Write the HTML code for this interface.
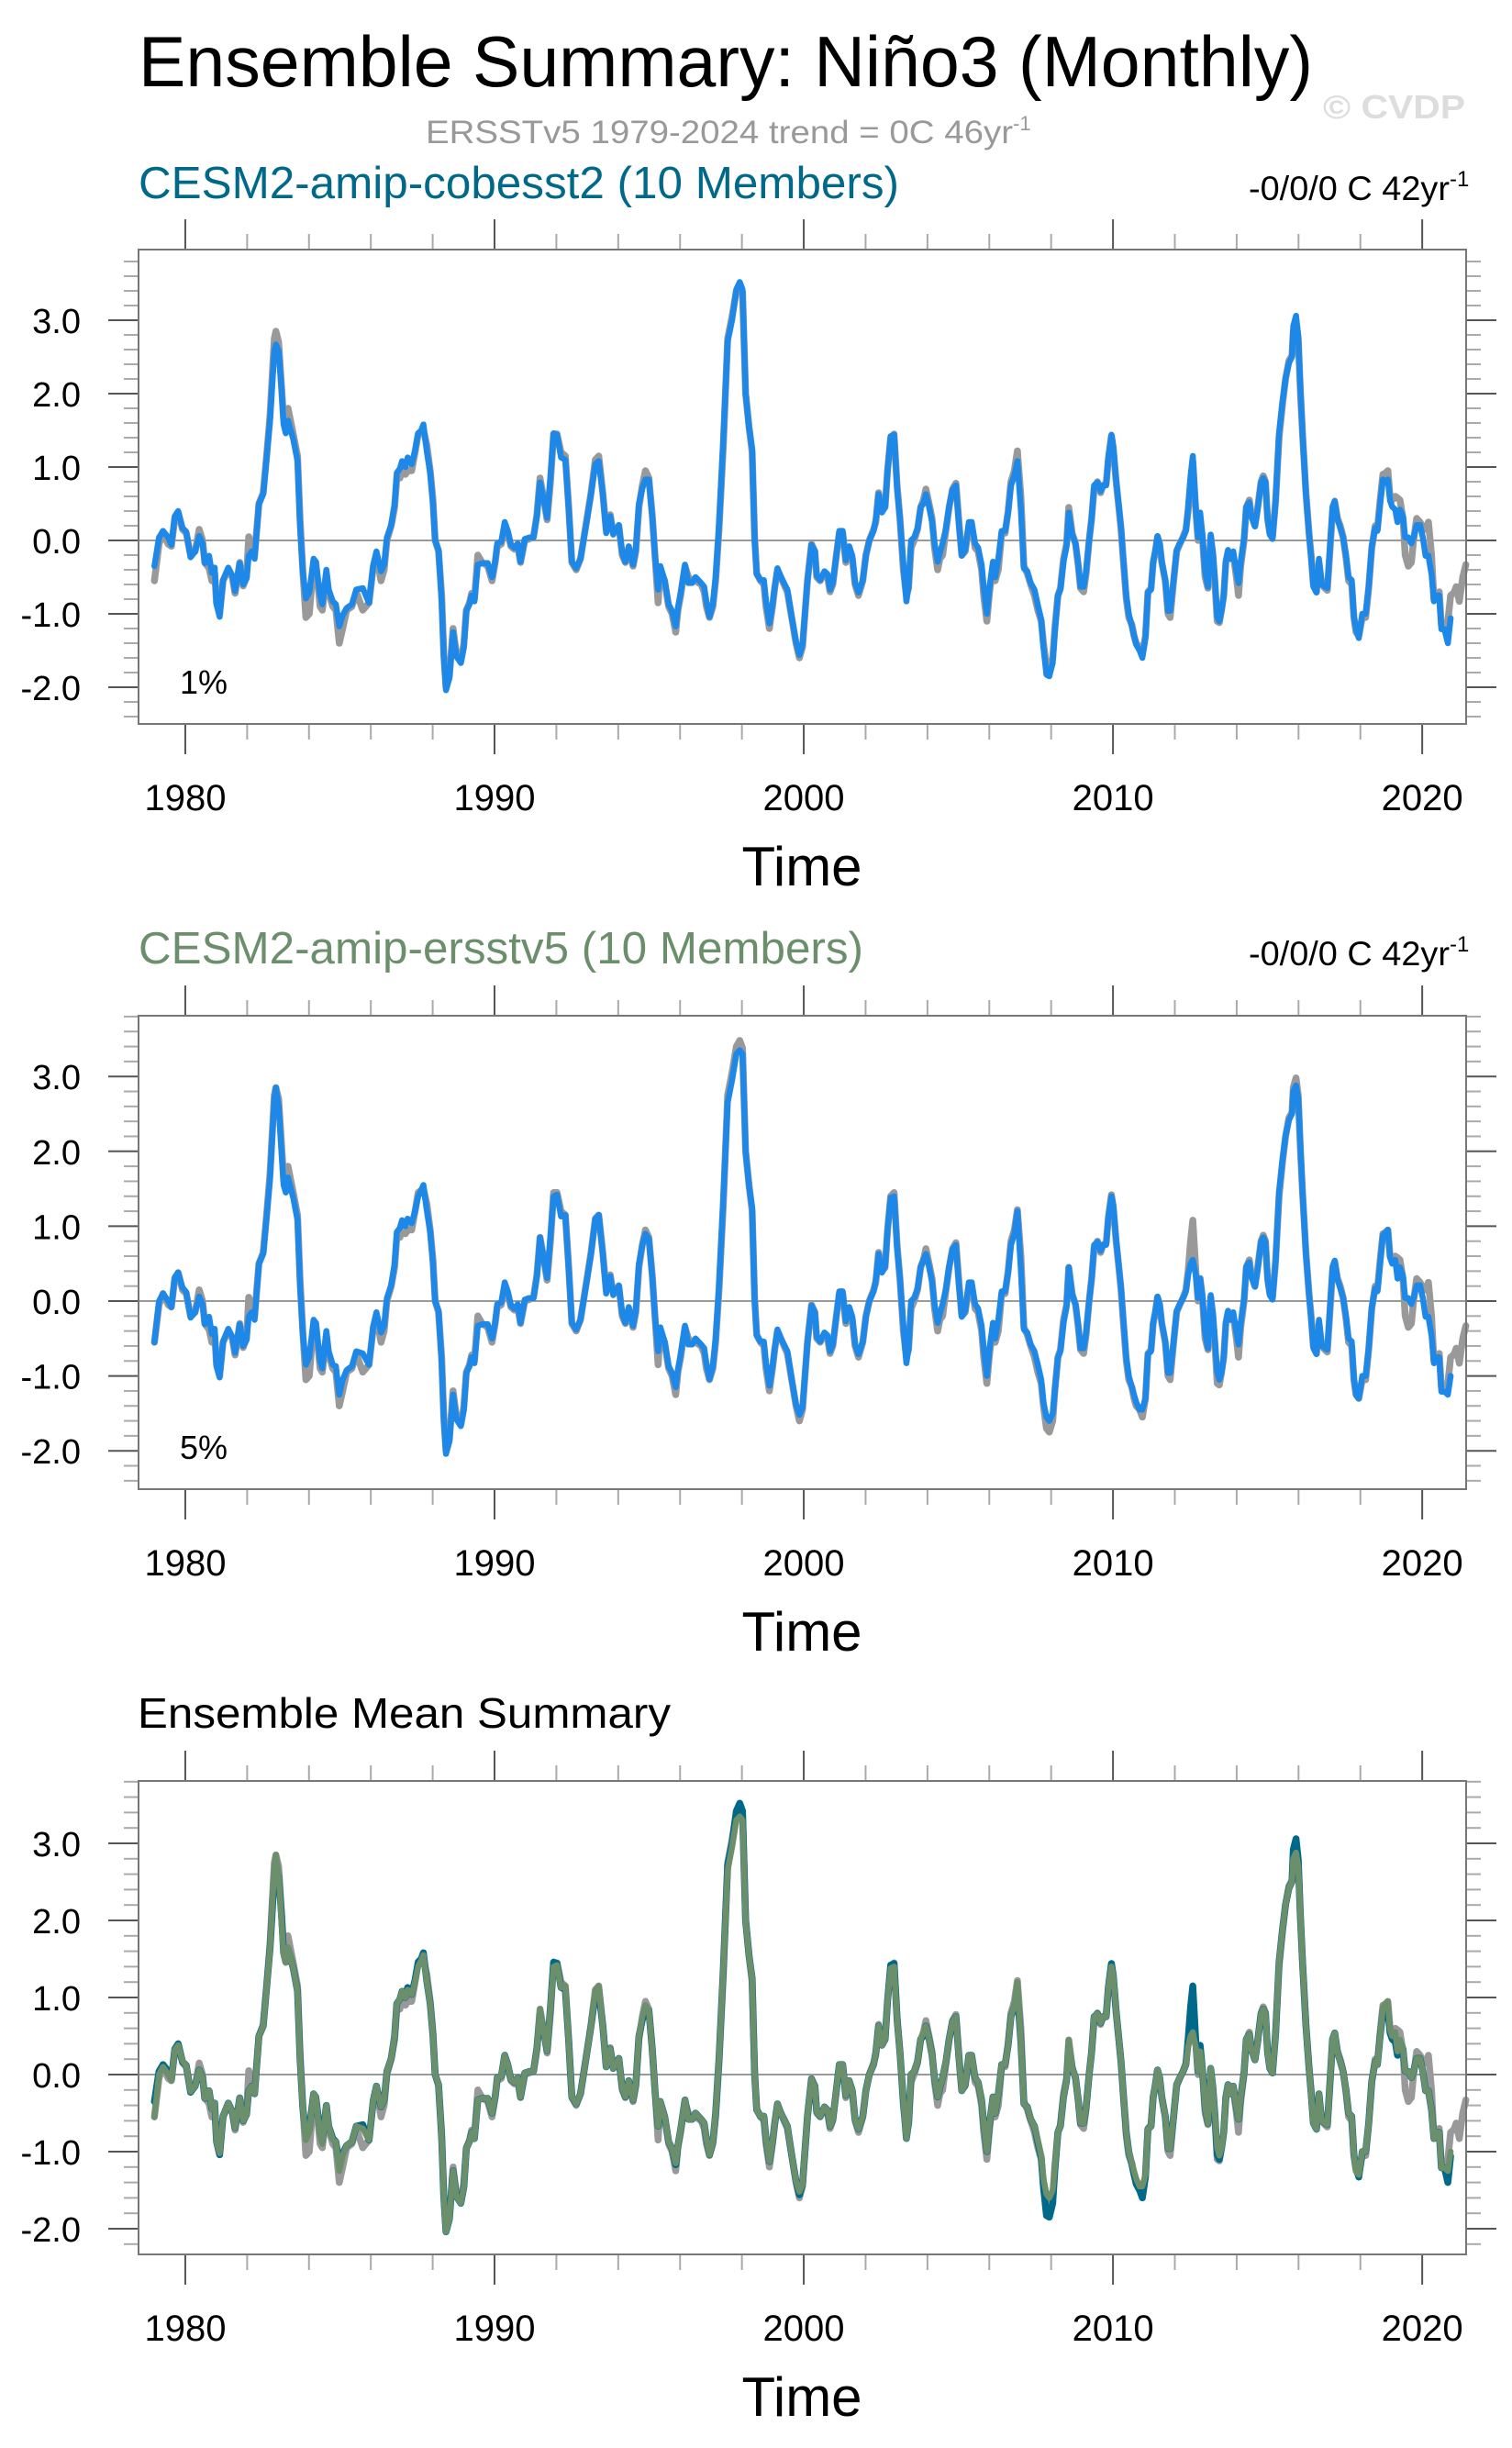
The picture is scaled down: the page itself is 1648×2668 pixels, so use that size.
<!DOCTYPE html>
<html><head><meta charset="utf-8"><title>Ensemble Summary: Niño3 (Monthly)</title>
<style>
html,body{margin:0;padding:0;background:#fff;}
svg{display:block;font-family:"Liberation Sans",Arial,sans-serif;}
</style></head>
<body>
<svg id="fig" width="1648" height="2668" viewBox="0 0 1648 2668" xmlns="http://www.w3.org/2000/svg">
<text x="151" y="94" font-size="78" fill="#000" textLength="1280" lengthAdjust="spacingAndGlyphs">Ensemble Summary: Niño3 (Monthly)</text>
<text x="1442" y="129" font-size="36" font-weight="bold" fill="#dddddd" textLength="155" lengthAdjust="spacingAndGlyphs">© CVDP</text>
<text x="464" y="156" font-size="35" fill="#999"><tspan textLength="640" lengthAdjust="spacingAndGlyphs">ERSSTv5 1979-2024 trend = 0C 46yr</tspan><tspan dy="-14" font-size="22">-1</tspan></text>

<text x="151" y="216" font-size="49" fill="#00698a" textLength="829" lengthAdjust="spacingAndGlyphs">CESM2-amip-cobesst2 (10 Members)</text>
<text x="1361" y="218" font-size="37" fill="#000"><tspan textLength="219" lengthAdjust="spacingAndGlyphs">-0/0/0 C 42yr</tspan><tspan dy="-15" font-size="24">-1</tspan></text>
<text x="196" y="756" font-size="36" fill="#000">1%</text>

<text x="151" y="1050" font-size="49" fill="#6b8f6b" textLength="790" lengthAdjust="spacingAndGlyphs">CESM2-amip-ersstv5 (10 Members)</text>
<text x="1361" y="1052" font-size="37" fill="#000"><tspan textLength="219" lengthAdjust="spacingAndGlyphs">-0/0/0 C 42yr</tspan><tspan dy="-15" font-size="24">-1</tspan></text>
<text x="196" y="1590" font-size="36" fill="#000">5%</text>

<text x="150" y="1883" font-size="46" fill="#000" textLength="581" lengthAdjust="spacingAndGlyphs">Ensemble Mean Summary</text>
</svg>
<script>
const times = [
1979.00,1979.15,1979.28,1979.45,1979.55,1979.66,1979.77,1979.91,1980.03,1980.17,
1980.32,1980.45,1980.56,1980.63,1980.77,1980.86,1980.95,1981.01,1981.11,1981.22,
1981.39,1981.52,1981.61,1981.76,1981.87,1981.98,1982.05,1982.15,1982.24,1982.38,
1982.52,1982.63,1982.74,1982.88,1982.93,1983.02,1983.11,1983.18,1983.25,1983.32,
1983.49,1983.63,1983.71,1983.80,1983.90,1984.01,1984.15,1984.22,1984.36,1984.43,
1984.56,1984.64,1984.77,1984.87,1984.98,1985.09,1985.22,1985.39,1985.53,1985.74,
1985.94,1986.08,1986.18,1986.33,1986.43,1986.52,1986.66,1986.77,1986.84,1986.94,
1987.01,1987.12,1987.19,1987.32,1987.43,1987.53,1987.63,1987.70,1987.81,1987.92,
1988.01,1988.08,1988.19,1988.29,1988.36,1988.43,1988.54,1988.66,1988.77,1988.91,
1989.01,1989.09,1989.19,1989.26,1989.35,1989.46,1989.60,1989.78,1989.92,1990.02,
1990.09,1990.22,1990.33,1990.43,1990.53,1990.64,1990.75,1990.84,1990.98,1991.12,
1991.26,1991.37,1991.47,1991.60,1991.70,1991.81,1991.91,1992.02,1992.15,1992.29,
1992.40,1992.50,1992.64,1992.78,1992.99,1993.12,1993.26,1993.37,1993.50,1993.61,
1993.74,1993.84,1994.02,1994.13,1994.23,1994.34,1994.48,1994.57,1994.67,1994.78,
1994.88,1994.99,1995.10,1995.19,1995.29,1995.36,1995.50,1995.63,1995.74,1995.86,
1995.93,1996.02,1996.16,1996.27,1996.39,1996.50,1996.68,1996.78,1996.85,1996.95,
1997.06,1997.15,1997.26,1997.40,1997.54,1997.68,1997.82,1997.93,1998.02,1998.12,
1998.23,1998.33,1998.41,1998.48,1998.60,1998.71,1998.78,1998.89,1998.99,1999.06,
1999.15,1999.26,1999.36,1999.47,1999.61,1999.75,1999.86,1999.96,2000.12,2000.25,
2000.36,2000.42,2000.53,2000.67,2000.77,2000.85,2000.94,2001.04,2001.15,2001.26,
2001.36,2001.47,2001.57,2001.66,2001.77,2001.91,2002.01,2002.12,2002.26,2002.33,
2002.42,2002.53,2002.63,2002.71,2002.81,2002.92,2003.02,2003.11,2003.22,2003.32,
2003.39,2003.47,2003.57,2003.68,2003.78,2003.87,2003.95,2004.05,2004.15,2004.23,
2004.33,2004.40,2004.49,2004.60,2004.70,2004.81,2004.92,2005.02,2005.11,2005.22,
2005.34,2005.43,2005.54,2005.64,2005.75,2005.82,2005.92,2006.01,2006.12,2006.19,
2006.29,2006.40,2006.51,2006.61,2006.70,2006.81,2006.91,2007.02,2007.12,2007.23,
2007.34,2007.46,2007.57,2007.68,2007.75,2007.85,2007.94,2008.05,2008.12,2008.22,
2008.30,2008.40,2008.50,2008.57,2008.68,2008.79,2008.88,2008.95,2009.05,2009.13,
2009.23,2009.31,2009.39,2009.50,2009.60,2009.68,2009.78,2009.85,2009.95,2010.01,
2010.10,2010.19,2010.26,2010.33,2010.43,2010.51,2010.61,2010.68,2010.75,2010.86,
2010.95,2011.05,2011.13,2011.23,2011.30,2011.37,2011.44,2011.51,2011.58,2011.69,
2011.78,2011.85,2011.95,2012.06,2012.16,2012.27,2012.36,2012.43,2012.51,2012.58,
2012.68,2012.75,2012.82,2012.89,2012.98,2013.07,2013.16,2013.23,2013.30,2013.37,
2013.44,2013.51,2013.58,2013.65,2013.72,2013.81,2013.89,2013.99,2014.06,2014.13,
2014.24,2014.31,2014.41,2014.47,2014.59,2014.68,2014.79,2014.86,2014.93,2015.00,
2015.07,2015.16,2015.26,2015.37,2015.48,2015.58,2015.69,2015.79,2015.83,2015.92,
2015.99,2016.06,2016.13,2016.24,2016.34,2016.41,2016.48,2016.58,2016.66,2016.75,
2016.85,2016.93,2017.00,2017.10,2017.17,2017.26,2017.35,2017.44,2017.54,2017.62,
2017.72,2017.79,2017.86,2017.95,2018.06,2018.17,2018.27,2018.37,2018.48,2018.55,
2018.64,2018.73,2018.82,2018.89,2018.96,2019.03,2019.13,2019.20,2019.28,2019.38,
2019.45,2019.55,2019.65,2019.72,2019.82,2019.93,2020.02,2020.11,2020.20,2020.30,
2020.38,2020.48,2020.55,2020.62,2020.72,2020.83,2020.92,2021.03,2021.10,2021.20,
2021.31,2021.41];

const cobeMean = [
-0.35,0.04,0.13,0.04,-0.06,0.33,0.40,0.17,0.12,-0.23,
-0.15,0.06,-0.04,-0.31,-0.21,-0.44,-0.37,-0.87,-1.04,-0.54,
-0.37,-0.48,-0.69,-0.31,-0.60,-0.52,-0.21,-0.15,-0.25,0.50,
0.63,1.13,1.63,2.58,2.67,2.58,2.08,1.58,1.46,1.63,
1.38,1.08,0.21,-0.42,-0.79,-0.71,-0.25,-0.29,-0.75,-0.87,
-0.40,-0.67,-0.83,-0.87,-1.17,-1.02,-0.92,-0.87,-0.67,-0.65,
-0.85,-0.33,-0.15,-0.42,-0.33,0.04,0.21,0.50,0.92,0.98,
1.08,1.00,1.13,1.04,1.23,1.46,1.50,1.58,1.21,0.92,
0.50,0.00,-0.13,-0.83,-1.58,-2.04,-1.88,-1.25,-1.58,-1.67,
-1.46,-0.96,-0.87,-0.75,-0.83,-0.33,-0.31,-0.31,-0.50,-0.29,
-0.04,-0.02,0.25,0.13,-0.06,-0.10,-0.04,-0.29,0.02,0.04,
0.04,0.33,0.79,0.54,0.31,0.88,1.46,1.44,1.13,1.10,
0.42,-0.29,-0.38,-0.25,0.29,0.63,1.04,1.08,0.63,0.10,
0.33,0.08,0.21,-0.17,-0.29,-0.08,-0.33,-0.13,0.50,0.71,
0.83,0.83,0.33,-0.21,-0.67,-0.35,-0.54,-0.87,-0.96,-1.17,
-0.92,-0.71,-0.33,-0.58,-0.58,-0.50,-0.58,-0.63,-0.83,-1.04,
-0.87,-0.50,0.21,1.38,2.71,3.00,3.42,3.52,3.42,2.00,
1.54,1.25,0.00,-0.46,-0.54,-0.54,-0.83,-1.13,-0.87,-0.63,
-0.38,-0.50,-0.58,-0.67,-1.04,-1.38,-1.56,-1.42,-0.54,-0.06,
-0.15,-0.48,-0.54,-0.42,-0.46,-0.67,-0.58,-0.25,0.13,0.13,
-0.27,-0.08,-0.21,-0.58,-0.71,-0.54,-0.21,0.00,0.13,0.29,
0.63,0.38,0.46,0.96,1.42,1.44,0.71,0.29,-0.33,-0.83,
-0.63,0.00,0.04,0.17,0.46,0.50,0.63,0.46,0.25,-0.04,
-0.29,-0.17,-0.04,0.17,0.46,0.69,0.75,0.21,-0.21,-0.13,
0.25,0.25,-0.04,-0.10,-0.33,-0.63,-1.00,-0.63,-0.29,-0.50,
-0.25,0.13,0.13,0.38,0.75,0.88,1.08,0.42,-0.38,-0.42,
-0.58,-0.67,-0.88,-1.08,-1.46,-1.83,-1.85,-1.67,-1.25,-0.75,
-0.67,-0.29,-0.08,0.38,0.08,-0.04,-0.33,-0.63,-0.63,-0.42,
0.00,0.29,0.75,0.79,0.67,0.75,0.75,1.13,1.44,1.29,
0.83,0.46,0.17,-0.21,-0.75,-1.00,-1.17,-1.29,-1.42,-1.50,
-1.60,-1.33,-0.71,-0.67,-0.29,-0.13,0.06,-0.04,-0.29,-0.54,
-0.96,-0.96,-0.58,-0.13,-0.04,0.04,0.13,0.46,0.88,1.15,
0.42,0.04,0.38,0.08,-0.42,-0.63,0.08,-0.17,-0.54,-1.04,
-1.10,-0.96,-0.75,-0.29,-0.13,-0.25,-0.15,-0.42,-0.58,-0.29,
0.04,0.46,0.52,0.33,0.19,0.42,0.79,0.85,0.79,0.29,
0.08,0.02,0.54,1.46,1.88,2.21,2.42,2.50,2.92,3.06,
2.79,2.08,1.46,0.63,0.08,-0.25,-0.63,-0.71,-0.25,-0.60,
-0.63,-0.65,-0.21,0.46,0.54,0.29,0.17,0.04,-0.21,-0.50,
-0.54,-1.04,-1.21,-1.33,-1.00,-1.00,-0.63,-0.08,0.17,0.13,
0.50,0.83,0.79,0.83,0.54,0.46,0.42,0.25,0.42,0.33,
0.04,0.04,-0.04,0.04,0.21,0.21,0.04,-0.21,-0.21,-0.46,
-0.83,-0.75,-0.75,-1.21,-1.21,-1.40,-1.06,null,null,null,
null,null];

const obsErsst = [
-0.55,-0.05,0.10,-0.05,-0.08,0.30,0.38,0.15,0.10,-0.20,
-0.15,0.15,0.00,-0.30,-0.38,-0.55,-0.45,-0.85,-1.00,-0.55,
-0.40,-0.50,-0.72,-0.30,-0.62,-0.50,0.05,-0.05,-0.20,0.50,
0.65,1.15,1.70,2.75,2.85,2.70,2.10,1.65,1.75,1.80,
1.45,1.15,0.30,-0.40,-1.05,-1.00,-0.30,-0.30,-0.90,-0.95,
-0.45,-0.72,-0.90,-0.95,-1.40,-1.20,-0.95,-0.90,-0.70,-0.95,
-0.85,-0.35,-0.20,-0.55,-0.40,0.00,0.20,0.45,0.85,0.85,
1.00,0.90,0.95,0.95,1.20,1.45,1.48,1.50,1.30,0.95,
0.55,0.00,-0.15,-0.75,-1.55,-2.00,-1.85,-1.20,-1.55,-1.65,
-1.40,-0.95,-0.85,-0.72,-0.80,-0.20,-0.30,-0.35,-0.55,-0.30,
-0.08,-0.05,0.20,0.10,-0.08,-0.12,-0.08,-0.30,0.00,0.02,
0.05,0.35,0.85,0.55,0.28,0.80,1.45,1.45,1.20,1.15,
0.45,-0.30,-0.40,-0.25,0.30,0.65,1.10,1.15,0.65,0.15,
0.35,0.10,0.20,-0.20,-0.30,-0.10,-0.35,-0.15,0.45,0.75,
0.95,0.85,0.35,-0.20,-0.85,-0.40,-0.55,-0.90,-1.00,-1.25,
-0.95,-0.75,-0.35,-0.50,-0.55,-0.55,-0.60,-0.70,-0.90,-1.05,
-0.90,-0.55,0.15,1.30,2.75,3.05,3.40,3.48,3.38,2.00,
1.55,1.20,0.05,-0.45,-0.55,-0.60,-0.90,-1.20,-0.90,-0.65,
-0.40,-0.50,-0.60,-0.70,-1.05,-1.40,-1.60,-1.45,-0.55,-0.05,
-0.15,-0.50,-0.55,-0.45,-0.50,-0.70,-0.60,-0.25,0.10,0.10,
-0.30,-0.10,-0.25,-0.60,-0.75,-0.55,-0.20,0.00,0.15,0.25,
0.65,0.40,0.45,0.95,1.40,1.45,0.75,0.30,-0.40,-0.75,
-0.65,-0.10,0.00,0.15,0.45,0.55,0.70,0.50,0.30,-0.10,
-0.40,-0.25,-0.20,0.15,0.45,0.70,0.78,0.25,-0.20,-0.15,
0.20,0.20,-0.10,-0.15,-0.40,-0.75,-1.10,-0.70,-0.35,-0.55,
-0.40,0.10,0.10,0.40,0.80,0.95,1.22,0.60,-0.35,-0.45,
-0.60,-0.75,-0.95,-1.10,-1.40,-1.70,-1.75,-1.60,-1.20,-0.75,
-0.65,-0.25,-0.05,0.45,0.10,-0.05,-0.35,-0.65,-0.70,-0.45,
0.00,0.30,0.70,0.80,0.65,0.75,0.78,1.10,1.42,1.25,
0.80,0.45,0.15,-0.25,-0.80,-1.05,-1.15,-1.30,-1.40,-1.45,
-1.55,-1.30,-0.70,-0.65,-0.30,-0.15,0.05,-0.05,-0.30,-0.55,
-1.00,-1.05,-0.60,-0.15,-0.05,0.05,0.15,0.40,0.80,1.08,
0.40,0.00,0.30,0.05,-0.50,-0.65,0.05,-0.20,-0.60,-1.10,
-1.12,-0.95,-0.75,-0.30,-0.15,-0.25,-0.20,-0.50,-0.75,-0.35,
0.00,0.45,0.55,0.35,0.20,0.45,0.80,0.88,0.80,0.30,
0.10,0.05,0.55,1.40,1.85,2.20,2.45,2.52,2.85,2.98,
2.75,2.05,1.45,0.65,0.10,-0.20,-0.60,-0.70,-0.30,-0.60,
-0.65,-0.68,-0.25,0.40,0.52,0.30,0.20,0.05,-0.25,-0.55,
-0.60,-1.05,-1.25,-1.30,-1.05,-1.05,-0.65,-0.10,0.20,0.15,
0.55,0.90,0.92,0.95,0.60,0.55,0.60,0.58,0.55,0.30,
-0.20,-0.35,-0.30,0.00,0.30,0.25,0.18,0.15,0.25,-0.20,
-0.80,-0.75,-0.70,-1.15,-1.20,-1.10,-0.75,-0.71,-0.63,-0.83,
-0.50,-0.33];

const ersstMean = [
-0.55,0.00,0.10,0.00,-0.08,0.32,0.38,0.18,0.12,-0.22,
-0.15,0.06,-0.04,-0.31,-0.21,-0.44,-0.37,-0.87,-1.02,-0.54,
-0.37,-0.48,-0.69,-0.31,-0.60,-0.52,-0.21,-0.15,-0.25,0.50,
0.63,1.13,1.63,2.70,2.85,2.60,2.00,1.55,1.45,1.65,
1.38,1.08,0.21,-0.42,-0.85,-0.75,-0.25,-0.29,-0.80,-0.90,
-0.40,-0.67,-0.85,-0.87,-1.25,-1.05,-0.92,-0.87,-0.67,-0.70,
-0.85,-0.33,-0.15,-0.42,-0.33,0.04,0.21,0.50,0.92,0.98,
1.08,1.00,1.10,1.04,1.20,1.40,1.48,1.55,1.21,0.92,
0.50,0.00,-0.13,-0.83,-1.58,-2.04,-1.88,-1.25,-1.58,-1.67,
-1.46,-0.96,-0.87,-0.75,-0.83,-0.33,-0.31,-0.31,-0.50,-0.29,
-0.04,-0.02,0.25,0.13,-0.06,-0.10,-0.04,-0.29,0.02,0.04,
0.04,0.33,0.85,0.54,0.31,0.88,1.40,1.42,1.13,1.15,
0.42,-0.29,-0.38,-0.25,0.29,0.63,1.10,1.15,0.63,0.10,
0.33,0.08,0.21,-0.17,-0.29,-0.08,-0.33,-0.13,0.50,0.75,
0.90,0.83,0.33,-0.21,-0.67,-0.35,-0.54,-0.87,-0.96,-1.15,
-0.92,-0.71,-0.33,-0.58,-0.58,-0.50,-0.58,-0.63,-0.83,-1.04,
-0.87,-0.50,0.21,1.38,2.65,2.95,3.30,3.35,3.30,2.00,
1.54,1.25,0.00,-0.46,-0.54,-0.54,-0.83,-1.13,-0.87,-0.63,
-0.38,-0.50,-0.58,-0.67,-1.04,-1.38,-1.52,-1.42,-0.54,-0.06,
-0.15,-0.48,-0.54,-0.42,-0.46,-0.67,-0.58,-0.25,0.13,0.13,
-0.27,-0.08,-0.21,-0.58,-0.71,-0.54,-0.21,0.00,0.13,0.29,
0.63,0.38,0.46,0.96,1.38,1.40,0.71,0.29,-0.33,-0.83,
-0.63,0.00,0.04,0.17,0.46,0.55,0.63,0.46,0.25,-0.04,
-0.29,-0.17,-0.04,0.17,0.46,0.69,0.75,0.21,-0.21,-0.13,
0.25,0.25,-0.04,-0.10,-0.33,-0.63,-1.00,-0.63,-0.29,-0.50,
-0.25,0.13,0.13,0.38,0.75,0.90,1.20,0.42,-0.38,-0.42,
-0.58,-0.67,-0.85,-1.05,-1.35,-1.55,-1.60,-1.50,-1.20,-0.75,
-0.67,-0.29,-0.08,0.45,0.08,-0.04,-0.33,-0.63,-0.63,-0.42,
0.00,0.29,0.75,0.79,0.67,0.75,0.75,1.13,1.40,1.29,
0.83,0.46,0.17,-0.21,-0.75,-1.00,-1.15,-1.25,-1.35,-1.45,
-1.45,-1.30,-0.71,-0.67,-0.29,-0.13,0.06,-0.04,-0.29,-0.54,
-0.96,-0.96,-0.58,-0.13,-0.04,0.04,0.13,0.35,0.50,0.55,
0.35,0.04,0.30,0.08,-0.42,-0.63,0.08,-0.17,-0.54,-0.95,
-1.05,-0.96,-0.75,-0.29,-0.13,-0.25,-0.15,-0.42,-0.58,-0.29,
0.04,0.46,0.52,0.33,0.19,0.42,0.79,0.85,0.79,0.29,
0.08,0.02,0.54,1.46,1.88,2.21,2.42,2.50,2.80,2.88,
2.70,2.08,1.46,0.63,0.08,-0.25,-0.63,-0.71,-0.25,-0.60,
-0.63,-0.65,-0.21,0.46,0.54,0.29,0.17,0.04,-0.21,-0.50,
-0.54,-1.04,-1.25,-1.30,-1.00,-1.00,-0.63,-0.08,0.17,0.13,
0.50,0.88,0.92,0.95,0.58,0.50,0.55,0.30,0.45,0.33,
0.04,0.04,-0.04,0.04,0.21,0.21,0.04,-0.21,-0.21,-0.46,
-0.83,-0.75,-0.75,-1.21,-1.21,-1.25,-1.00,null,null,null,
null,null];

const yTickLabels = ["-2.0","-1.0","0.0","1.0","2.0","3.0"];
const yTickValues = [-2,-1,0,1,2,3];
const xTickLabels = ["1980","1990","2000","2010","2020"];
const xTickValues = [1980,1990,2000,2010,2020];

const NS = "http://www.w3.org/2000/svg";
const svg = document.getElementById("fig");
const X0 = 151, X1 = 1598, YEAR0 = 1978.488, YEAR1 = 2021.42;
function xScale(t){ return X0 + (t - YEAR0) / (YEAR1 - YEAR0) * (X1 - X0); }

function mk(tag, attrs, parent){
  const e = document.createElementNS(NS, tag);
  for (const k in attrs) e.setAttribute(k, attrs[k]);
  (parent || svg).appendChild(e);
  return e;
}
function pathFor(vals, yS){
  let d = "", pen = false;
  for (let i = 0; i < times.length; i++){
    const v = vals[i];
    if (v === null || v === undefined){ pen = false; continue; }
    d += (pen ? "L" : "M") + xScale(times[i]).toFixed(1) + "," + yS(v).toFixed(1);
    pen = true;
  }
  return d;
}

function drawPanel(p, idx){
  const g = mk("g", {});
  
  
  const yS = v => p.zero - v * p.scale;
  const vmin = (p.zero - p.bottom) / p.scale, vmax = (p.zero - p.top) / p.scale;
  for (let k = -15; k <= 20; k++){
    const v = k * 0.2;
    if (v < vmin - 1e-6 || v > vmax + 1e-6) continue;
    const y = yS(v);
    const major = (k % 5 === 0);
    const len = major ? 33 : 16;
    const col = major ? "#555" : "#aaa";
    const tl = mk("line", {x1: X0 - len, x2: X0, y1: y, y2: y, stroke: col, "stroke-width": 2}, g);
    
    
    const tr = mk("line", {x1: X1, x2: X1 + len, y1: y, y2: y, stroke: col, "stroke-width": 2}, g);
    
    
  }
  yTickValues.forEach((v, i) => {
    const t = mk("text", {x: 88, y: yS(v) + 14, "text-anchor": "end", "font-size": 38, fill: "#000"}, g);
    t.textContent = yTickLabels[i];
    
    
  });
  for (let yr = 1980; yr <= 2020; yr += 2){
    const x = xScale(yr);
    const major = (yr % 10 === 0);
    const len = major ? 33 : 17;
    const col = major ? "#555" : "#aaa";
    const tt = mk("line", {x1: x, x2: x, y1: p.top - len, y2: p.top, stroke: col, "stroke-width": 2}, g);
    
    
    const tb = mk("line", {x1: x, x2: x, y1: p.bottom, y2: p.bottom + len, stroke: col, "stroke-width": 2}, g);
    
    
  }
  xTickValues.forEach((v, i) => {
    const t = mk("text", {x: xScale(v), y: p.bottom + 94, "text-anchor": "middle", "font-size": 40, fill: "#000"}, g);
    t.textContent = xTickLabels[i];
    
    
  });
  const xt = mk("text", {x: 874, y: p.bottom + 176, "text-anchor": "middle", "font-size": 60, fill: "#000"}, g);
  xt.textContent = "Time";
  
  
  const zl = mk("line", {x1: X0, x2: X1, y1: yS(0), y2: yS(0), stroke: "#9a9a9a", "stroke-width": 2}, g);
  
  
  p.series.forEach(s => {
    const pa = mk("path", {d: pathFor(s.vals, yS), fill: "none", stroke: s.color, "stroke-width": s.w, "stroke-linejoin": "round", "stroke-linecap": "round"}, g);
    
    
  });
  const fr = mk("rect", {x: X0, y: p.top, width: X1 - X0, height: p.bottom - p.top, fill: "none", stroke: "#777", "stroke-width": 2}, g);
  
  
}

const panels = [
  {top: 272, bottom: 789, zero: 589, scale: 80, series: [
    {vals: obsErsst, color: "#999999", w: 7.5, name: "obs-ersstv5-line"},
    {vals: cobeMean, color: "#1e88e8", w: 6.5, name: "cobesst2-ensemble-line"}]},
  {top: 1107, bottom: 1623, zero: 1418, scale: 81.6, series: [
    {vals: obsErsst, color: "#999999", w: 7.5, name: "obs-ersstv5-line"},
    {vals: ersstMean, color: "#1e88e8", w: 6.5, name: "ersstv5-ensemble-line"}]},
  {top: 1941, bottom: 2457, zero: 2261, scale: 84, series: [
    {vals: obsErsst, color: "#999999", w: 7.5, name: "obs-ersstv5-line"},
    {vals: cobeMean, color: "#00698a", w: 7.5, name: "cobesst2-mean-line"},
    {vals: ersstMean, color: "#6b8f6b", w: 6.5, name: "ersstv5-mean-line"}]}
];
panels.forEach((p, i) => drawPanel(p, i + 1));
</script>
</body></html>
